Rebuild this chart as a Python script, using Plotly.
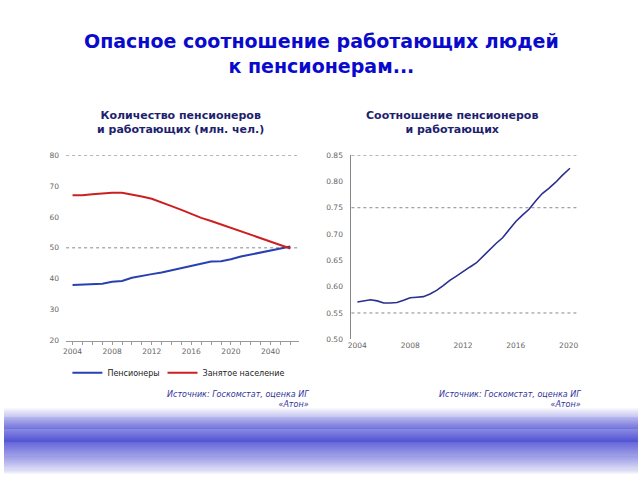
import plotly.graph_objects as go

# ---- data ----
years_left = list(range(2004, 2027))
pensioners = [38.0, 38.2, 38.3, 38.4, 39.0, 39.3, 40.3, 41.0, 41.5, 42.0, 42.7, 43.3,
              44.2, 44.7, 45.6, 45.7, 46.3, 47.2, 47.8, 48.6, 49.0, 49.7, 50.4]
employed = [67.0, 67.0, 67.3, 67.6, 67.8, 67.8, 67.3, 66.6, 65.9, 64.8, 63.5, 62.3,
            61.0, 59.7, 58.7, 57.6, 56.4, 55.3, 54.3, 53.2, 52.2, 51.0, 49.8]
left_xticks = [2004, 2008, 2012, 2016, 2020, 2024]
left_xticktext = ["2004", "2008", "2012", "2016", "2020", "2040"]
left_yticks = [20, 30, 40, 50, 60, 70, 80]
left_grid = [80, 50]

years_right = [2004, 2004.5, 2005, 2005.5, 2006, 2006.5, 2007, 2007.5, 2008, 2008.5, 2009,
               2009.5, 2010, 2010.5, 2011, 2011.5, 2012, 2012.5, 2013, 2013.5, 2014,
               2014.5, 2015, 2015.5, 2016, 2016.5, 2017, 2017.5, 2018, 2018.5, 2019,
               2019.5, 2020, 2020.1]
ratio = [0.571, 0.573, 0.575, 0.573, 0.569, 0.569, 0.570, 0.574, 0.579, 0.580, 0.581,
         0.586, 0.593, 0.602, 0.612, 0.620, 0.629, 0.637, 0.645, 0.658, 0.671, 0.682,
         0.693, 0.709, 0.724, 0.736, 0.747, 0.763, 0.777, 0.787, 0.798, 0.811, 0.823, 0.825]
right_xticks = [2004, 2008, 2012, 2016, 2020]
right_yticks = [0.50, 0.55, 0.60, 0.65, 0.70, 0.75, 0.80, 0.85]
right_grid = [0.85, 0.75, 0.55]

W, H = 640, 480
def py(p):
    return 1 - p / H
def px(p):
    return p / W

fig = go.Figure()
fig.add_trace(go.Scatter(x=years_left, y=pensioners, mode="lines", name="Пенсионеры",
                         line=dict(color="#2741b0", width=2), xaxis="x", yaxis="y",
                         legend="legend"))
fig.add_trace(go.Scatter(x=years_left, y=employed, mode="lines", name="Занятое население",
                         line=dict(color="#cc2020", width=2), xaxis="x", yaxis="y",
                         legend="legend2"))
fig.add_trace(go.Scatter(x=years_right, y=ratio, mode="lines", showlegend=False,
                         line=dict(color="#2b2f8f", width=1.6), xaxis="x2", yaxis="y2"))

tickfont = dict(family="DejaVu Sans", size=7.5, color="#666666")

shapes = []
for g in left_grid:
    shapes.append(dict(type="line", xref="x domain", yref="y", x0=0, x1=1, y0=g, y1=g,
                       line=dict(color="#888888", width=1, dash="dot"), layer="below"))
for g in right_grid:
    shapes.append(dict(type="line", xref="x2 domain", yref="y2", x0=0, x1=1, y0=g, y1=g,
                       line=dict(color="#888888", width=1, dash="dot"), layer="below"))

# bottom gradient band
center, half = 445, 34
for yy in range(center - half, min(center + half, H) + 1):
    t = max(0.0, 1 - abs(yy - center) / half)
    t = t ** 0.85
    r = round(255 * (1 - t) + 46 * t)
    g_ = round(255 * (1 - t) + 46 * t)
    b = round(255 * (1 - t) + 204 * t)
    shapes.append(dict(type="rect", xref="paper", yref="paper", x0=0, x1=1,
                       y0=py(yy + 1), y1=py(yy), line=dict(width=0),
                       fillcolor=f"rgb({r},{g_},{b})", layer="below"))

annotations = [
    dict(text="<b>Опасное соотношение работающих людей<br>к пенсионерам...</b>",
         x=0.5, y=py(24), xref="paper", yref="paper", showarrow=False, xanchor="center",
         yanchor="top", font=dict(family="DejaVu Sans", size=19, color="#0a0acc")),
    dict(text="<b>Количество пенсионеров<br>и работающих (млн. чел.)</b>",
         x=px(178), y=py(105), xref="paper", yref="paper", showarrow=False, xanchor="center",
         yanchor="top", font=dict(family="DejaVu Sans", size=11, color="#1f1f70")),
    dict(text="<b>Соотношение пенсионеров<br>и работающих</b>",
         x=px(452), y=py(105), xref="paper", yref="paper", showarrow=False, xanchor="center",
         yanchor="top", font=dict(family="DejaVu Sans", size=11, color="#1f1f70")),
    dict(text="<i>Источник: Госкомстат, оценка ИГ<br>«Атон»</i>", align="right",
         x=px(310), y=py(391), xref="paper", yref="paper", showarrow=False, xanchor="right",
         yanchor="top", font=dict(family="DejaVu Sans", size=8, color="#333399")),
    dict(text="<i>Источник: Госкомстат, оценка ИГ<br>«Атон»</i>", align="right",
         x=px(584), y=py(391), xref="paper", yref="paper", showarrow=False, xanchor="right",
         yanchor="top", font=dict(family="DejaVu Sans", size=8, color="#333399")),
]

legfont = dict(family="DejaVu Sans", size=8, color="#222222")

fig.update_layout(
    width=W, height=H, margin=dict(l=0, r=0, t=0, b=0),
    paper_bgcolor="white", plot_bgcolor="white",
    showlegend=True,
    legend=dict(orientation="h", x=px(64), y=py(361), xanchor="left", yanchor="top",
                font=legfont, itemwidth=30, bgcolor="rgba(0,0,0,0)"),
    legend2=dict(orientation="h", x=px(160), y=py(361), xanchor="left", yanchor="top",
                 font=legfont, itemwidth=30, bgcolor="rgba(0,0,0,0)"),
    xaxis=dict(domain=[px(62.7), px(298)], range=[2003.35, 2026.9],
               tickvals=left_xticks, ticktext=left_xticktext, tickfont=tickfont,
               showgrid=False, zeroline=False, showline=True, linecolor="#999999",
               ticks="outside", ticklen=3, tickcolor="#999999",
               minor=dict(dtick=1, ticks="outside", ticklen=3, tickcolor="#999999"),
               anchor="y"),
    yaxis=dict(domain=[py(343), py(154)], range=[20, 80], tickvals=left_yticks,
               tickfont=tickfont, showgrid=False, zeroline=False, showline=False,
               ticks="", anchor="x", ticklabelstandoff=6),
    xaxis2=dict(domain=[px(350.7), px(578)], range=[2003.55, 2020.6],
                tickvals=right_xticks, tickfont=tickfont, showgrid=False, zeroline=False,
                showline=False, ticks="", anchor="y2"),
    yaxis2=dict(domain=[py(341.7), py(154)], range=[0.50, 0.85], tickvals=right_yticks,
                tickformat=".2f", tickfont=tickfont, showgrid=False, zeroline=False,
                showline=True, linecolor="#888888", ticks="", anchor="x2",
                ticklabelstandoff=6),
    shapes=shapes, annotations=annotations,
)

fig.write_html("out.html")
